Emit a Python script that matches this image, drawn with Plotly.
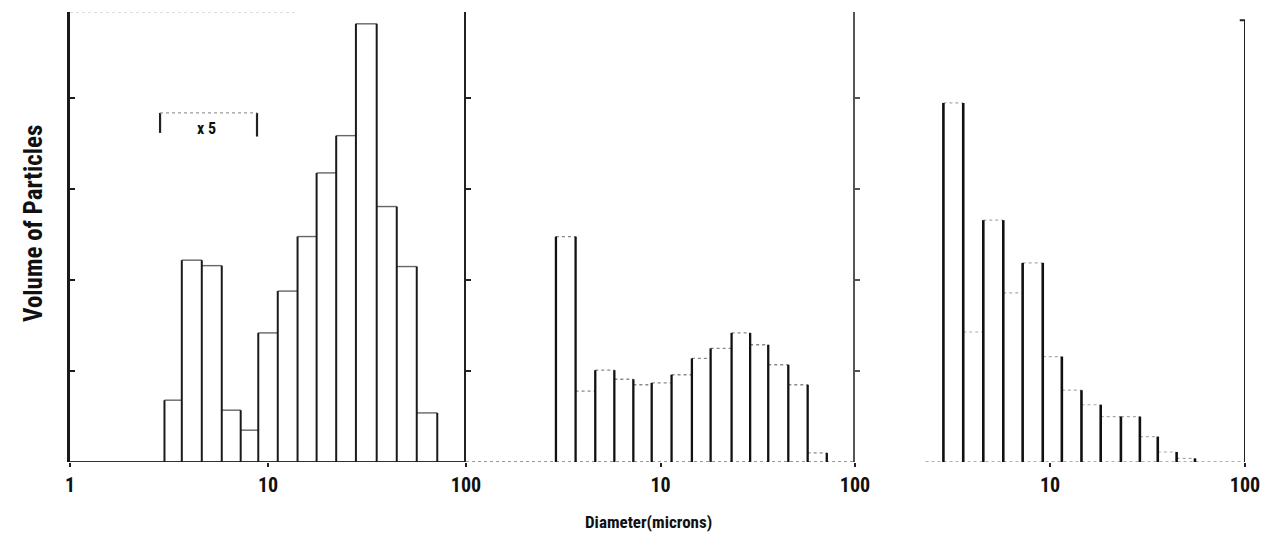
import plotly.graph_objects as go

# ---- data (bin edges in microns, bar heights in relative volume units) ----
edges_a = [3.0, 3.67, 4.63, 5.84, 7.28, 8.93, 11.2, 14.1, 17.6, 22.1, 27.8, 35.4, 44.7, 56.4, 71.6]
heights_a = [0.68, 2.22, 2.16, 0.57, 0.35, 1.42, 1.88, 2.48, 3.18, 3.59, 4.82, 2.81, 2.15, 0.54]

edges_b = [2.90, 3.66, 4.62, 5.79, 7.25, 9.01, 11.4, 14.5, 18.1, 23.2, 28.9, 35.8, 45.4, 57.1, 71.6]
heights_b = [2.48, 0.78, 1.01, 0.91, 0.85, 0.87, 0.96, 1.14, 1.25, 1.42, 1.29, 1.07, 0.85, 0.10]

edges_c = [2.84, 3.59, 4.55, 5.76, 7.24, 9.18, 11.5, 14.5, 18.2, 23.1, 28.9, 35.7, 44.6, 55.4]
heights_c = [3.95, 1.43, 2.66, 1.86, 2.19, 1.16, 0.79, 0.63, 0.50, 0.50, 0.28, 0.11, 0.04]

x_tick_vals = [[1, 10, 100], [10, 100], [10, 100]]
x_tick_text = [["1", "10", "100"], ["10", "100"], ["10", "100"]]
y_tick_vals = [1, 2, 3, 4]
scale_note = "x 5"
scale_span = [2.85, 8.8]
x_title = "Diameter(microns)"
y_title = "Volume of Particles"

Y_TOP = 4.95
FONT = "Roboto Condensed, DejaVu Sans Condensed, sans-serif"

fig = go.Figure()


def hist_traces(edges, heights, axis_n, vstyle, tstyle):
    xa = "x" if axis_n == 1 else f"x{axis_n}"
    ya = "y" if axis_n == 1 else f"y{axis_n}"
    vx, vy, tx, ty = [], [], [], []
    for j, e in enumerate(edges):
        left = heights[j - 1] if j - 1 >= 0 else 0
        right = heights[j] if j < len(heights) else 0
        vx += [e, e, None]
        vy += [0, max(left, right), None]
    for i, h in enumerate(heights):
        tx += [edges[i], edges[i + 1], None]
        ty += [h, h, None]
    fig.add_trace(go.Scatter(x=tx, y=ty, mode="lines", line=tstyle, xaxis=xa, yaxis=ya,
                             hoverinfo="skip", showlegend=False))
    fig.add_trace(go.Scatter(x=vx, y=vy, mode="lines", line=vstyle, xaxis=xa, yaxis=ya,
                             hoverinfo="skip", showlegend=False))


# baselines
fig.add_trace(go.Scatter(x=[1, 100], y=[0, 0], mode="lines", line=dict(color="#333", width=2),
                         xaxis="x", yaxis="y", showlegend=False, hoverinfo="skip"))
fig.add_trace(go.Scatter(x=[1, 100], y=[0, 0], mode="lines", line=dict(color="#777", width=1.5, dash="dot"),
                         xaxis="x2", yaxis="y2", showlegend=False, hoverinfo="skip"))
fig.add_trace(go.Scatter(x=[2.3, 100], y=[0, 0], mode="lines", line=dict(color="#999", width=1.3, dash="dot"),
                         xaxis="x3", yaxis="y3", showlegend=False, hoverinfo="skip"))

# faint top border of first panel
fig.add_trace(go.Scatter(x=[1, 14], y=[Y_TOP, Y_TOP], mode="lines", line=dict(color="#bbb", width=1, dash="dot"),
                         xaxis="x", yaxis="y", showlegend=False, hoverinfo="skip"))

hist_traces(edges_a, heights_a, 1, dict(color="#1a1a1a", width=2), dict(color="#666", width=1.4))
hist_traces(edges_b, heights_b, 2, dict(color="#111", width=2.3), dict(color="#888", width=1.3, dash="dot"))
hist_traces(edges_c, heights_c, 3, dict(color="#111", width=2.6), dict(color="#aaa", width=1.2, dash="dot"))

# right closing axis of third panel with hook at the top
fig.add_trace(go.Scatter(x=[94, 100, 100], y=[4.86, 4.86, 0], mode="lines", line=dict(color="#222", width=2),
                         xaxis="x3", yaxis="y3", showlegend=False, hoverinfo="skip"))

# x5 bracket: uprights dark, top faint
fig.add_trace(go.Scatter(x=[scale_span[0], scale_span[0], None, scale_span[1], scale_span[1]],
                         y=[3.62, 3.84, None, 3.84, 3.58], mode="lines",
                         line=dict(color="#222", width=2.2), xaxis="x", yaxis="y",
                         showlegend=False, hoverinfo="skip"))
fig.add_trace(go.Scatter(x=[scale_span[0], scale_span[1]], y=[3.84, 3.84], mode="lines",
                         line=dict(color="#999", width=1.2, dash="dot"), xaxis="x", yaxis="y",
                         showlegend=False, hoverinfo="skip"))

W, H = 1281, 536
ml, mr, mt, mb = 70, 36, 12, 74
pw = W - ml - mr
ph = H - mt - mb
bounds = [70, 466, 855, 1245]
doms = [[(bounds[i] - ml) / pw, (bounds[i + 1] - ml) / pw] for i in range(3)]

layout = dict(
    width=W, height=H, margin=dict(l=ml, r=mr, t=mt, b=mb),
    paper_bgcolor="white", plot_bgcolor="white",
    font=dict(family=FONT, color="#111", size=16, weight="bold"),
    showlegend=False,
)
for i in range(3):
    n = "" if i == 0 else str(i + 1)
    layout["xaxis" + n] = dict(
        type="log", range=[0, 2], domain=doms[i], anchor="y" + n,
        tickmode="array", tickvals=x_tick_vals[i], ticktext=x_tick_text[i],
        ticks="outside", ticklen=4, tickwidth=2, tickcolor="#222",
        showgrid=False, zeroline=False, showline=False,
        tickfont=dict(family=FONT, size=20, color="#111", weight="bold"),
        ticklabelstandoff=1,
    )
    ycol = ["#1a1a1a", "#222", "#555"][i]
    layout["yaxis" + n] = dict(
        range=[0, Y_TOP], domain=[0, 1], anchor="x" + n,
        showline=True, linecolor=ycol, linewidth=[2.5, 2.2, 1.8][i],
        ticks="inside", tickvals=y_tick_vals, ticklen=5, tickwidth=2, tickcolor=ycol,
        showticklabels=False, showgrid=False, zeroline=False,
    )
fig.update_layout(**layout)


def px_x(px):
    return (px - ml) / pw


def px_y(py):
    return (H - mb - py) / ph


fig.add_annotation(text=scale_note, xref="paper", yref="paper", xanchor="center", yanchor="middle",
                   x=px_x(206), y=px_y(128), showarrow=False,
                   font=dict(family=FONT, size=16, color="#111", weight="bold"))
fig.add_annotation(text=x_title, xref="paper", yref="paper", xanchor="center", yanchor="middle",
                   x=px_x(648), y=px_y(522), showarrow=False,
                   font=dict(family=FONT, size=17, color="#111", weight="bold"))
fig.add_annotation(text=y_title, xref="paper", yref="paper", textangle=-90,
                   xanchor="center", yanchor="middle",
                   x=px_x(33), y=px_y(224), showarrow=False,
                   font=dict(family=FONT, size=25, color="#111", weight="bold"))

fig.write_html("out.html")
